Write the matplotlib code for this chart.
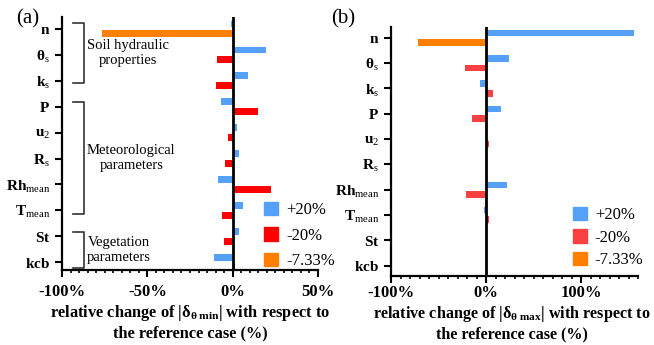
import numpy as np
import matplotlib
matplotlib.use("Agg")
import matplotlib.pyplot as plt
import matplotlib.ticker as ticker
from matplotlib.patches import Patch

# parameters (top to bottom)
params = [r'$\mathbf{n}$', r'$\mathbf{\theta}_\mathrm{s}$', r'$\mathbf{k}_\mathrm{s}$', r'$\mathbf{P}$',
          r'$\mathbf{u}_\mathrm{2}$', r'$\mathbf{R}_\mathrm{s}$', r'$\mathbf{Rh}_\mathrm{mean}$',
          r'$\mathbf{T}_\mathrm{mean}$', r'$\mathbf{St}$', r'$\mathbf{kcb}$']

# panel (a): relative change of |delta_theta_min| (%)
a_plus20 = [-1, 19.8, 9.2, -7, 2.7, 3.9, -8.8, 5.9, 3.9, -11]
a_minus = [-76.5, -9.4, -10, 15.1, -2.9, -4.7, 22.7, -6.5, -4.9, 1.5]  # first one is -7.33% (n)

# panel (b): relative change of |delta_theta_max| (%)
b_plus20 = [155.5, 24, -6.3, 15.8, -0.5, 0, 22, -2.1, 0, 0]
b_minus = [-71.6, -22, 7.4, -14.7, 2.8, 0, -21, 2.8, 0, 0]

legend_labels = ['+20%', '-20%', '-7.33%']

BLUE = '#55A0F8'
ORANGE = '#FF8000'

plt.rcParams['font.family'] = ['Liberation Serif', 'DejaVu Serif']
plt.rcParams['mathtext.fontset'] = 'custom'
plt.rcParams['mathtext.rm'] = 'Liberation Serif'
plt.rcParams['mathtext.it'] = 'Liberation Serif:italic'
plt.rcParams['mathtext.bf'] = 'Liberation Serif:bold'


def draw_panel(ax, plus, minus, red, xlim, major, minor, ylim, pad):
    y = np.arange(len(params))
    ax.barh(y - 0.19, plus, height=0.26, color=BLUE)
    minus_colors = [ORANGE] + [red] * (len(params) - 1)
    ax.barh(y + 0.19, minus, height=0.26, color=minus_colors)
    ax.axvline(0, color='black', lw=2)

    ax.set_xlim(xlim)
    ax.set_ylim(ylim)
    ax.set_yticks(y)
    ax.set_yticklabels(params, fontsize=11)
    ax.xaxis.set_major_locator(ticker.MultipleLocator(major))
    ax.xaxis.set_minor_locator(ticker.MultipleLocator(minor))
    ax.xaxis.set_major_formatter(ticker.FuncFormatter(lambda v, p: f"{int(v)}%"))
    for lab in ax.get_xticklabels():
        lab.set_fontweight('bold')
    ax.tick_params(axis='x', labelsize=12, pad=pad)
    ax.tick_params(which='major', length=5, width=1.5)
    ax.tick_params(which='minor', length=2.5, width=1.2)
    ax.spines['top'].set_visible(False)
    ax.spines['right'].set_visible(False)
    ax.spines['left'].set_linewidth(1.6)
    ax.spines['bottom'].set_linewidth(1.6)

    handles = [Patch(color=BLUE), Patch(color=red), Patch(color=ORANGE)]
    return handles


def add_bracket(ax, y0, y1, text, tx=0.098):
    tr = ax.get_yaxis_transform()
    ax.plot([0.043, 0.086, 0.086, 0.043], [y0, y0, y1, y1], color='#333333', lw=1.2,
            transform=tr, clip_on=False)
    ax.text(tx, (y0 + y1) / 2, text, transform=tr, ha='left', va='center',
            multialignment='center', fontsize=10.5, linespacing=1.15)


fig = plt.figure(figsize=(6.54, 3.45), dpi=100)
ax_a = fig.add_axes([62 / 654, 1 - 270 / 345, 256 / 654, 253 / 345])
ax_b = fig.add_axes([391 / 654, 1 - 275.7 / 345, 247 / 654, 248.7 / 345])

h_a = draw_panel(ax_a, a_plus20, a_minus, '#FF0000', (-100, 50), 50, 5, (9.3, -0.46), 5)
h_b = draw_panel(ax_b, b_plus20, b_minus, '#F94141', (-100, 160), 100, 10, (9.4, -0.43), 1.5)

ax_a.set_xlabel('relative change of |$\\mathbf{\\delta_{\\theta\\ min}}$| with respect to\nthe reference case (%)',
                fontsize=11.8, fontweight='bold', labelpad=2)
ax_b.set_xlabel('relative change of |$\\mathbf{\\delta_{\\theta\\ max}}$| with respect to\nthe reference case (%)',
                fontsize=11.6, fontweight='bold', labelpad=2)
ax_b.xaxis.label.set_x(0.49)

add_bracket(ax_a, -0.23, 2.08, 'Soil hydraulic\nproperties')
add_bracket(ax_a, 2.82, 7.14, 'Meteorological\nparameters')
add_bracket(ax_a, 7.84, 9.23, 'Vegetation\nparameters')

ax_a.legend(h_a, legend_labels, loc='upper left', bbox_to_anchor=(0.79, 0.27), frameon=False,
            fontsize=12, handlelength=0.85, handleheight=0.85, handletextpad=0.45,
            labelspacing=0.55, borderpad=0, borderaxespad=0)
ax_b.legend(h_b, legend_labels, loc='upper left', bbox_to_anchor=(0.737, 0.278), frameon=False,
            fontsize=12, handlelength=0.85, handleheight=0.85, handletextpad=0.45,
            labelspacing=0.38, borderpad=0, borderaxespad=0)

fig.text(28 / 654, 1 - 19 / 345, '(a)', fontsize=15, ha='center', va='center')
fig.text(343 / 654, 1 - 19 / 345, '(b)', fontsize=15, ha='center', va='center')

fig.savefig('out.png', dpi=100)
